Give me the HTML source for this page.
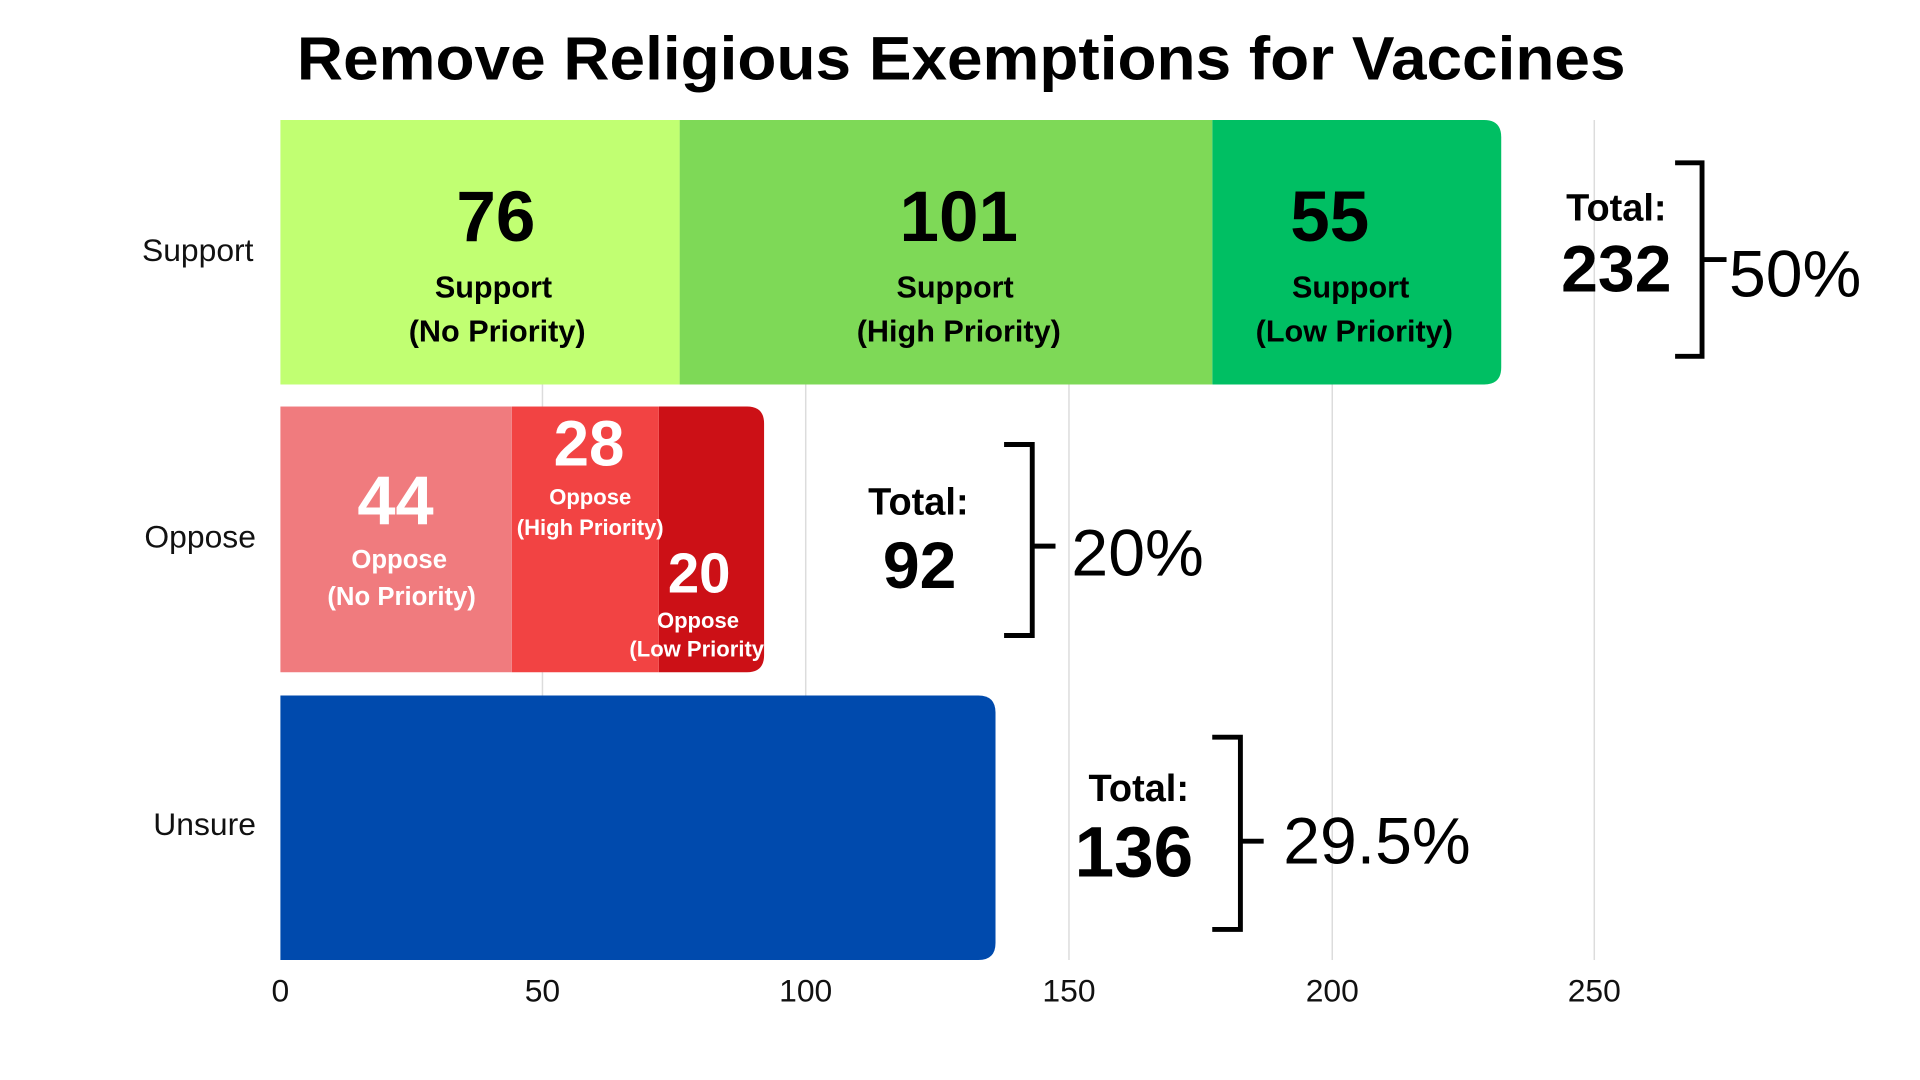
<!DOCTYPE html>
<html><head><meta charset="utf-8"><style>html,body{margin:0;padding:0;background:#fff;overflow:hidden}svg{display:block}</style></head>
<body>
<svg width="1920" height="1080" viewBox="0 0 1568 882" xmlns="http://www.w3.org/2000/svg" font-family="Liberation Sans, sans-serif">
<rect width="1568" height="882" fill="#fff"/>
<text x="785" y="65" text-anchor="middle" font-size="50" font-weight="bold" textLength="1085" lengthAdjust="spacingAndGlyphs">Remove Religious Exemptions for Vaccines</text>
<g stroke="#dcdcdc" stroke-width="1.2">
<line x1="443" y1="98" x2="443" y2="784"/><line x1="658" y1="98" x2="658" y2="784"/><line x1="873" y1="98" x2="873" y2="784"/><line x1="1088" y1="98" x2="1088" y2="784"/><line x1="1302" y1="98" x2="1302" y2="784"/>
</g>
<!-- support -->
<path d="M990 98 H1212 Q1226 98 1226 112 V300 Q1226 314 1212 314 H990 Z" fill="#00bf63"/>
<rect x="555" y="98" width="435" height="216" fill="#7ed957"/>
<rect x="229" y="98" width="326" height="216" fill="#c1ff72"/>
<!-- oppose -->
<path d="M538 332 H610 Q624 332 624 346 V535 Q624 549 610 549 H538 Z" fill="#cc1016"/>
<rect x="418" y="332" width="120" height="217" fill="#f24343"/>
<rect x="229" y="332" width="189" height="217" fill="#f07b7e"/>
<!-- unsure -->
<path d="M229 568 H799 Q813 568 813 582 V770 Q813 784 799 784 H229 Z" fill="#004aad"/>
<g font-size="26" fill="#111">
<text x="207" y="213" text-anchor="end">Support</text>
<text x="209" y="447" text-anchor="end">Oppose</text>
<text x="209" y="682" text-anchor="end">Unsure</text>
</g>
<g font-size="26" fill="#111" text-anchor="middle">
<text x="229" y="818">0</text><text x="443" y="818">50</text><text x="658" y="818">100</text><text x="873" y="818">150</text><text x="1088" y="818">200</text><text x="1302" y="818">250</text>
</g>
<g font-weight="bold" text-anchor="middle" fill="#000">
<text x="405" y="197" font-size="58">76</text>
<text x="403" y="243" font-size="25">Support</text>
<text x="406" y="279" font-size="25">(No Priority)</text>
<text x="783" y="197" font-size="58">101</text>
<text x="780" y="243" font-size="25">Support</text>
<text x="783" y="279" font-size="25">(High Priority)</text>
<text x="1086" y="197" font-size="58">55</text>
<text x="1103" y="243" font-size="25">Support</text>
<text x="1106" y="279" font-size="25">(Low Priority)</text>
</g>
<g font-weight="bold" text-anchor="middle" fill="#fff">
<text x="323" y="428" font-size="56">44</text>
<text x="326" y="464" font-size="21">Oppose</text>
<text x="328" y="494" font-size="21">(No Priority)</text>
<text x="481" y="380" font-size="52">28</text>
<text x="482" y="412" font-size="18">Oppose</text>
<text x="482" y="437" font-size="18">(High Priority)</text>
<text x="571" y="484" font-size="46">20</text>
<text x="570" y="513" font-size="18">Oppose</text>
<text x="569" y="536" font-size="18">(Low Priority</text>
</g>
<g font-weight="bold" text-anchor="middle" fill="#000">
<text x="1320" y="180" font-size="31">Total:</text>
<text x="1320" y="238" font-size="54">232</text>
<text x="750" y="420" font-size="31">Total:</text>
<text x="751" y="480" font-size="54">92</text>
<text x="930" y="654" font-size="31">Total:</text>
<text x="926" y="716" font-size="58">136</text>
</g>
<g fill="none" stroke="#000" stroke-width="4">
<path d="M1368 133 H1390 V291 H1368 M1390 212 H1410"/>
<path d="M820 363 H843 V519 H820 M843 446 H862"/>
<path d="M990 602 H1013 V759 H990 M1013 687 H1032"/>
</g>
<g font-size="54" fill="#000">
<text x="1412" y="242">50%</text>
<text x="875" y="470">20%</text>
<text x="1048" y="705">29.5%</text>
</g>
</svg>
</body></html>
